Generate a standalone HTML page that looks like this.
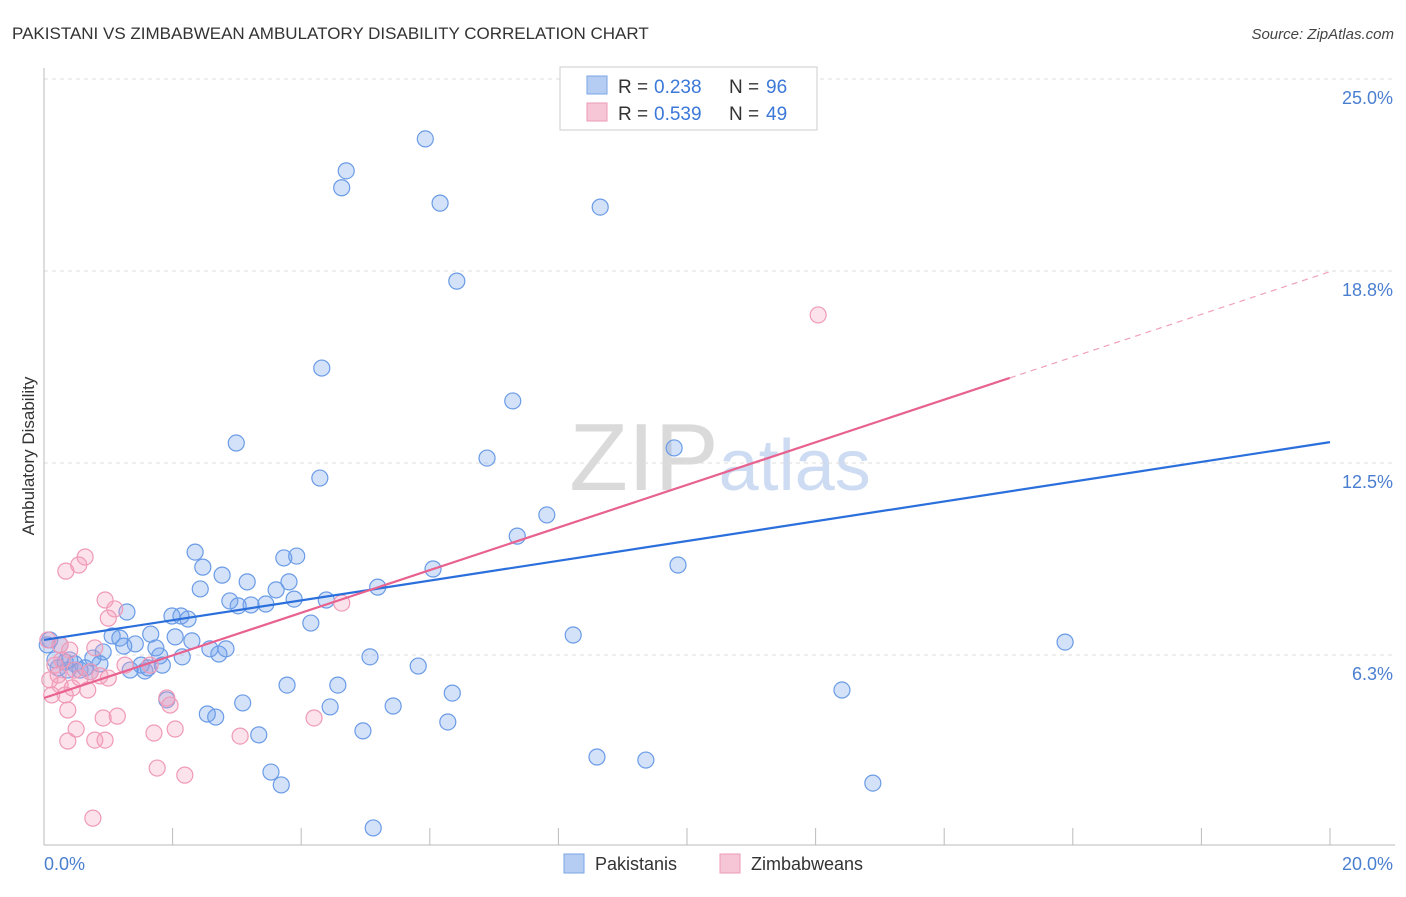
<!DOCTYPE html>
<html><head><meta charset="utf-8"><style>
body{margin:0;background:#fff;font-family:"Liberation Sans",sans-serif;}
svg text{font-family:"Liberation Sans",sans-serif;}
</style></head><body>
<svg id="chart" width="1406" height="892" xmlns="http://www.w3.org/2000/svg">
<text x="12" y="39" font-size="17" fill="#333">PAKISTANI VS ZIMBABWEAN AMBULATORY DISABILITY CORRELATION CHART</text>
<text x="1394" y="39" font-size="15" fill="#444" font-style="italic" text-anchor="end">Source: ZipAtlas.com</text>
<text x="720" y="490" font-size="96" text-anchor="middle" fill="#ddd" font-family="Liberation Serif"><tspan fill="#dadada">ZIP</tspan><tspan fill="#cddcf2" font-family="Liberation Sans" font-size="72">atlas</tspan></text>
<text transform="translate(34,456) rotate(-90)" font-size="17" fill="#333" text-anchor="middle">Ambulatory Disability</text>
<g id="grid"></g><g id="axes"></g><g id="pts"></g><g id="trend"></g>
<g>
<rect x="560" y="67" width="257" height="63" fill="#fff" stroke="#ccc"/>
<rect x="587" y="76" width="20" height="18" fill="#b5cdf3" stroke="#7aa5e6"/>
<text x="618" y="93" font-size="19" fill="#333">R =</text>
<text x="654" y="93" font-size="19" fill="#3b78d8">0.238</text>
<text x="729" y="93" font-size="19" fill="#333">N =</text>
<text x="766" y="93" font-size="19" fill="#3b78d8">96</text>
<rect x="587" y="103" width="20" height="18" fill="#f7c6d6" stroke="#ee9ab5"/>
<text x="618" y="120" font-size="19" fill="#333">R =</text>
<text x="654" y="120" font-size="19" fill="#3b78d8">0.539</text>
<text x="729" y="120" font-size="19" fill="#333">N =</text>
<text x="766" y="120" font-size="19" fill="#3b78d8">49</text>
</g>
<g>
<rect x="564" y="854" width="20" height="19" fill="#b5cdf3" stroke="#7aa5e6"/>
<text x="595" y="870" font-size="18" fill="#333">Pakistanis</text>
<rect x="720" y="854" width="20" height="19" fill="#f7c6d6" stroke="#ee9ab5"/>
<text x="751" y="870" font-size="18" fill="#333">Zimbabweans</text>
</g>
</svg>
<script>
const xTicks=[0,2,4,6,8,10,12,14,16,18,20];
const yTicks=[6.25,12.5,18.75,25];
const yTickLabels=["6.3%","12.5%","18.8%","25.0%"];
const xTickLabels=["0.0%","20.0%"];
const blueX=[5.93,4.70,4.63,6.16,8.65,6.42,4.32,7.29,2.99,9.80,6.89,4.29,7.82,7.36,2.35,3.73,3.93,6.05,9.86,2.47,2.77,3.16,3.81,5.19,3.61,2.43,3.89,4.39,2.89,3.02,3.22,3.45,1.29,1.99,2.13,2.24,4.15,1.66,8.23,1.06,2.04,1.18,2.30,15.88,1.42,1.24,1.74,2.58,2.83,2.72,1.80,2.15,0.09,0.25,0.92,0.76,5.07,5.82,1.84,1.51,1.34,1.57,1.62,0.17,0.33,0.48,0.64,0.87,3.78,4.57,12.41,6.35,3.09,4.45,5.43,2.54,2.67,6.28,4.96,3.34,8.60,9.36,3.53,3.69,12.89,5.12,0.05,0.40,0.56,0.72,0.22,0.37,1.91];
const blueY=[23.05,22.01,21.46,20.96,20.83,18.42,15.59,14.52,13.15,12.99,12.66,12.01,10.81,10.12,9.60,9.41,9.47,9.05,9.18,9.11,8.85,8.63,8.63,8.46,8.37,8.40,8.07,8.04,8.01,7.85,7.88,7.91,7.65,7.52,7.52,7.42,7.29,6.93,6.90,6.87,6.84,6.80,6.71,6.67,6.61,6.54,6.48,6.45,6.45,6.28,6.22,6.19,6.74,6.58,6.35,6.15,6.19,5.89,5.92,5.92,5.76,5.73,5.83,6.09,6.02,5.96,5.83,5.96,5.27,5.27,5.11,5.01,4.69,4.56,4.59,4.33,4.23,4.07,3.78,3.65,2.93,2.83,2.44,2.02,2.08,0.62,6.58,6.09,5.76,5.70,5.83,5.76,4.79];
const pinkX=[12.04,0.64,0.54,0.34,0.95,1.10,1.00,4.63,0.06,0.25,0.40,0.79,0.28,0.17,0.48,0.72,0.87,1.00,0.09,0.25,0.44,0.12,0.33,1.91,1.96,0.37,0.92,1.14,4.20,0.50,2.04,1.71,0.37,0.79,0.95,3.05,1.76,2.19,0.76,1.26,1.65,0.22,0.56,0.68];
const pinkY=[17.32,9.44,9.18,8.98,8.04,7.75,7.45,7.94,6.74,6.58,6.41,6.48,6.09,5.92,5.76,5.70,5.57,5.50,5.44,5.27,5.18,4.95,4.95,4.85,4.62,4.46,4.20,4.26,4.20,3.84,3.84,3.71,3.45,3.48,3.48,3.61,2.57,2.34,0.94,5.92,5.92,5.60,5.50,5.11];
const blueTrend=[[0,6.74],[20,13.18]];
const pinkTrend=[[0,4.85],[15.02,15.27]];
const pinkTrendDash=[[15.02,15.27],[20,18.73]];
const NS="http://www.w3.org/2000/svg";
const sx=v=>44+v*64.3, sy=v=>847-v*30.72;
function mk(tag,attrs,parent){const e=document.createElementNS(NS,tag);for(const k in attrs)e.setAttribute(k,attrs[k]);document.getElementById(parent).appendChild(e);return e;}
yTicks.forEach((t,i)=>{
 const g=mk('line',{x1:44,x2:1395,y1:sy(t),y2:sy(t),stroke:'#ddd','stroke-dasharray':'4,4'},'grid');
 
 
 const l=mk('text',{x:1393,y:sy(t)+25,'font-size':18,fill:'#4a7fd0','text-anchor':'end'},'grid');l.textContent=yTickLabels[i];
 
 
});
mk('line',{x1:44,x2:44,y1:68,y2:845,stroke:'#bbb'},'axes');
mk('line',{x1:44,x2:1395,y1:845,y2:845,stroke:'#bbb'},'axes');
xTicks.forEach(t=>{const e=mk('line',{x1:sx(t),x2:sx(t),y1:828,y2:845,stroke:'#bbb'},'axes');
 
 });
const xl0=mk('text',{x:44,y:870,'font-size':18,fill:'#4a7fd0'},'axes');xl0.textContent=xTickLabels[0];


const xl1=mk('text',{x:1393,y:870,'font-size':18,fill:'#4a7fd0','text-anchor':'end'},'axes');xl1.textContent=xTickLabels[1];


blueX.forEach((v,i)=>{const c=mk('circle',{cx:sx(v),cy:sy(blueY[i]),r:8,fill:'rgba(110,160,235,0.3)',stroke:'#6a9be6','stroke-width':1.2},'pts');
 
 });
pinkX.forEach((v,i)=>{const c=mk('circle',{cx:sx(v),cy:sy(pinkY[i]),r:8,fill:'rgba(245,160,190,0.3)',stroke:'#ef9ab7','stroke-width':1.2},'pts');
 
 });
const bt=mk('line',{x1:sx(blueTrend[0][0]),y1:sy(blueTrend[0][1]),x2:sx(blueTrend[1][0]),y2:sy(blueTrend[1][1]),stroke:'#2a6fdb','stroke-width':2.2},'trend');


const pt=mk('line',{x1:sx(pinkTrend[0][0]),y1:sy(pinkTrend[0][1]),x2:sx(pinkTrend[1][0]),y2:sy(pinkTrend[1][1]),stroke:'#e8628f','stroke-width':2.2},'trend');


const pd=mk('line',{x1:sx(pinkTrendDash[0][0]),y1:sy(pinkTrendDash[0][1]),x2:sx(pinkTrendDash[1][0]),y2:sy(pinkTrendDash[1][1]),stroke:'#f0a0ba','stroke-width':1.2,'stroke-dasharray':'6,5'},'trend');


</script>
</body></html>
